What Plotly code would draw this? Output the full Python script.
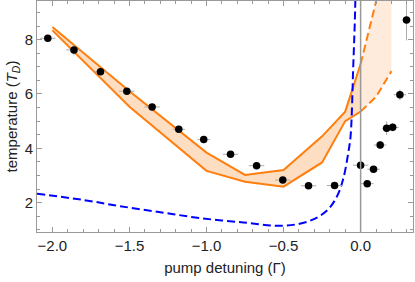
import plotly.graph_objects as go

# measured data points
det = [-2.03, -1.86, -1.688, -1.517, -1.353, -1.18, -1.018, -0.844, -0.675, -0.505,
       -0.338, -0.169, 0.0, 0.043, 0.084, 0.127, 0.169, 0.208, 0.255, 0.298]
temp = [8.05, 7.62, 6.82, 6.1, 5.52, 4.7, 4.32, 3.78, 3.36, 2.83,
        2.62, 2.63, 3.38, 2.7, 3.23, 4.12, 4.74, 4.77, 5.97, 8.72]
temp_err = [0.1, 0.2, 0.12, 0.12, 0.1, 0.1, 0.1, 0.1, 0.1, 0.1,
            0.08, 0.08, 0.15, 0.12, 0.12, 0.15, 0.25, 0.15, 0.2, 0.75]
det_err = [0.05, 0.05, 0.04, 0.05, 0.05, 0.04, 0.04, 0.05, 0.05, 0.05,
           0.05, 0.05, 0.05, 0.04, 0.04, 0.04, 0.03, 0.04, 0.04, 0.03]

# simulated band (solid part)
band_x = [-2.0, -1.5, -1.0, -0.75, -0.5, -0.25, -0.1, 0.0]
band_hi = [8.46, 6.1, 3.84, 3.02, 3.2, 4.44, 5.35, 7.1]
band_lo = [8.34, 5.53, 3.17, 2.77, 2.59, 3.48, 5.0, 5.35]
# band continuation (dashed part)
band2_x = [0.0, 0.1, 0.2]
band2_hi = [7.1, 9.38, 11.7]
band2_lo = [5.35, 5.89, 6.84]

# Doppler theory curve
dop_x = [-2.1, -1.8, -1.56, -1.3, -1.04, -0.76, -0.5, -0.33, -0.22, -0.156,
         -0.113, -0.08, -0.065, -0.048, -0.036, -0.028]
dop_y = [2.33, 2.1, 1.87, 1.65, 1.43, 1.27, 1.15, 1.33, 1.7, 2.2,
         2.87, 3.84, 4.45, 6.98, 9.0, 11.5]

ORANGE = "#FF7F0E"
FONT_COLOR = "#222222"
fig = go.Figure()

fig.add_trace(go.Scatter(x=band_x + band_x[::-1], y=band_hi + band_lo[::-1],
                         fill="toself", fillcolor="#FDDEC3", line=dict(width=0),
                         mode="lines", hoverinfo="skip", showlegend=False))
fig.add_trace(go.Scatter(x=band2_x + band2_x[::-1], y=band2_hi + band2_lo[::-1],
                         fill="toself", fillcolor="#FEEBDC", line=dict(width=0),
                         mode="lines", hoverinfo="skip", showlegend=False))

fig.add_vline(x=0, line=dict(color="#999999", width=1.5))

for ys in (band_hi, band_lo):
    fig.add_trace(go.Scatter(x=band_x, y=ys, mode="lines",
                             line=dict(color=ORANGE, width=2), showlegend=False))
for ys in (band2_hi, band2_lo):
    fig.add_trace(go.Scatter(x=band2_x, y=ys, mode="lines",
                             line=dict(color=ORANGE, width=2, dash="8px,4px"),
                             showlegend=False))

fig.add_trace(go.Scatter(x=dop_x, y=dop_y, mode="lines", line_shape="spline",
                         line=dict(color="#0000FF", width=2, dash="8px,4px"),
                         showlegend=False))

fig.add_trace(go.Scatter(
    x=det, y=temp, mode="markers",
    marker=dict(color="black", size=7.5),
    error_y=dict(type="data", array=temp_err, color="#AAAAAA", thickness=1, width=0),
    error_x=dict(type="data", array=det_err, color="#AAAAAA", thickness=1, width=0),
    showlegend=False))

axis_common = dict(showline=True, linecolor="#999999", linewidth=1, mirror="allticks",
                   ticks="inside", ticklen=5, tickcolor="#999999", showgrid=False,
                   zeroline=False, automargin=False,
                   tickfont=dict(size=15, color=FONT_COLOR))
fig.update_xaxes(range=[-2.1, 0.34], dtick=0.5, tick0=0, tickformat=".1f",
                 minor=dict(dtick=0.1, ticklen=3, ticks="inside", tickcolor="#999999"),
                 title=dict(text="pump detuning (Γ)", font=dict(size=15, color=FONT_COLOR),
                            standoff=9),
                 **axis_common)
fig.update_yaxes(range=[0.92, 9.42], dtick=2, tick0=0,
                 minor=dict(dtick=0.5, ticklen=3, ticks="inside", tickcolor="#999999"),
                 title=dict(text="temperature (<i>T</i><sub><i>D</i></sub>)",
                            font=dict(size=15, color=FONT_COLOR), standoff=3),
                 **axis_common)
fig.update_layout(width=415, height=282, margin=dict(l=37, r=2, t=1, b=50),
                  plot_bgcolor="white", paper_bgcolor="white",
                  font=dict(family="Liberation Sans, Arial, sans-serif"))
fig.write_html("out.html", config={"displayModeBar": False},
               post_script="document.body.style.margin='0';document.body.style.padding='0';")
